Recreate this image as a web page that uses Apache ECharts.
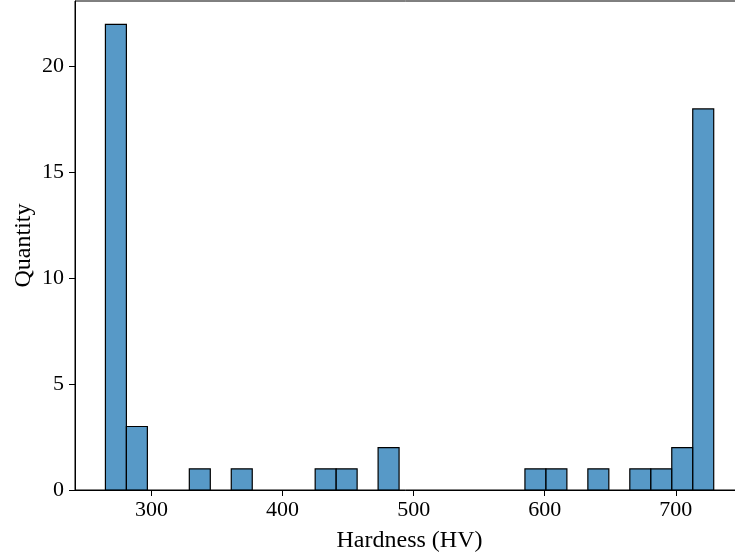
<!DOCTYPE html>
<html>
<head>
<meta charset="utf-8">
<script src="https://cdn.jsdelivr.net/npm/echarts@6/dist/echarts.min.js"></script>
<style>
  html, body { margin: 0; padding: 0; background: #fff; }
  #chart { width: 735px; height: 558px; }
</style>
</head>
<body>
<div id="chart"></div>
<script>
// Histogram of hardness measurements: 29 equal-width bins
const binStart = 264.9;
const binWidth = 16.0;
const counts = [22, 3, 0, 0, 1, 0, 1, 0, 0, 0, 1, 1, 0, 2, 0, 0, 0, 0, 0, 0, 1, 1, 0, 1, 0, 1, 1, 2, 18];
const xTicks = [300, 400, 500, 600, 700];
const yTicks = [0, 5, 10, 15, 20];
const xRange = [241.7, 752.0];
const yMax = 23.1;

// [binLeft, binRight, count] rows for the custom series
const bins = counts.map((c, i) => [binStart + i * binWidth, binStart + (i + 1) * binWidth, c]);

const font = '"Liberation Serif", "Times New Roman", serif';
const chart = echarts.init(document.getElementById('chart'), null, { renderer: 'canvas' });

chart.setOption({
  animation: false,
  backgroundColor: '#fff',
  grid: {
    left: 75, top: 1, width: 669, height: 489,
    outerBoundsMode: 'none', containLabel: false,
    show: true, borderColor: '#000', borderWidth: 1, backgroundColor: 'transparent'
  },
  xAxis: {
    type: 'value', min: xRange[0], max: xRange[1],
    name: 'Hardness (HV)', nameLocation: 'middle', nameGap: 39, nameMoveOverlap: false,
    nameTextStyle: { fontFamily: font, fontSize: 24, color: '#000' },
    axisLine: { show: true, lineStyle: { color: '#000', width: 1 } },
    axisTick: { show: true, inside: false, length: 6, lineStyle: { color: '#000', width: 1 }, customValues: xTicks },
    axisLabel: { fontFamily: font, fontSize: 22, color: '#000', margin: 9, customValues: xTicks },
    splitLine: { show: false }
  },
  yAxis: {
    type: 'value', min: 0, max: yMax,
    name: 'Quantity', nameLocation: 'middle', nameGap: 39, nameMoveOverlap: false,
    nameTextStyle: { fontFamily: font, fontSize: 24, color: '#000' },
    axisLine: { show: true, lineStyle: { color: '#000', width: 1 } },
    axisTick: { show: true, inside: false, length: 6, lineStyle: { color: '#000', width: 1 }, customValues: yTicks },
    axisLabel: { fontFamily: font, fontSize: 22, color: '#000', margin: 11, customValues: yTicks },
    splitLine: { show: false }
  },
  series: [{
    type: 'custom',
    data: bins.filter(b => b[2] > 0),
    encode: { x: [0, 1], y: 2 },
    renderItem: function (params, api) {
      const p0 = api.coord([api.value(0), 0]);
      const p1 = api.coord([api.value(1), api.value(2)]);
      return {
        type: 'rect',
        shape: { x: p0[0], y: p1[1], width: p1[0] - p0[0], height: p0[1] - p1[1] },
        style: { fill: 'rgba(31,119,180,0.75)', stroke: '#000', lineWidth: 1.2 }
      };
    }
  }]
});
</script>
</body>
</html>
